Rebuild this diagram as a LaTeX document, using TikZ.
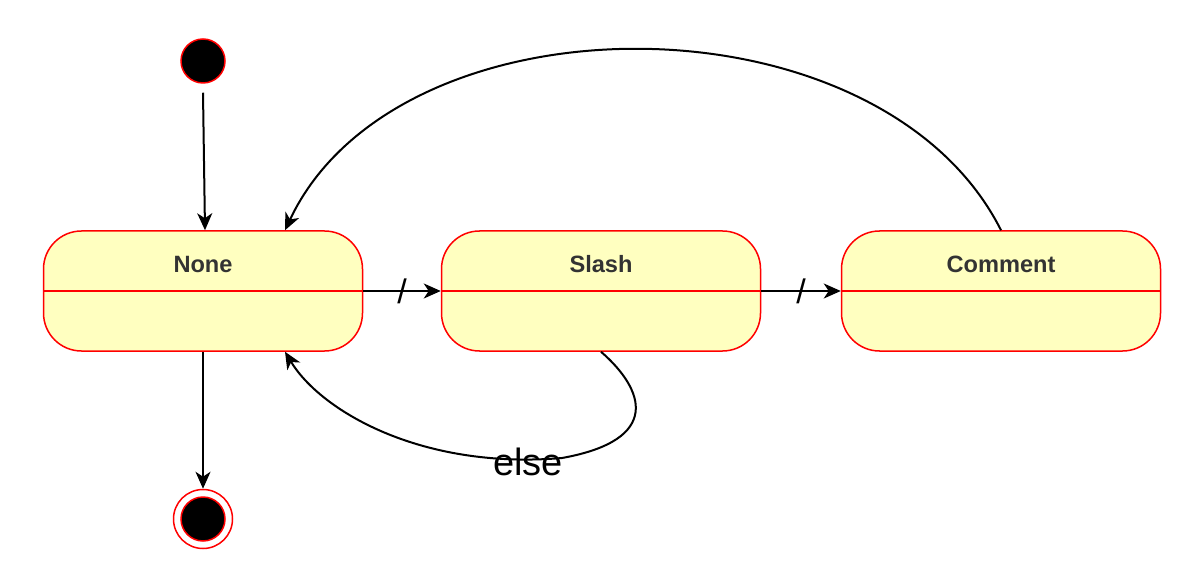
\documentclass[tikz,border=0pt]{standalone}
\usepackage{fontspec}
\setmainfont{Liberation Sans}
\usetikzlibrary{arrows.meta}
\definecolor{statefill}{HTML}{FFFFC0}
\definecolor{titlegray}{HTML}{333333}
\begin{document}
\begin{tikzpicture}[x=0.5pt,y=-0.5pt,
    state/.style={draw=red,fill=statefill,line width=0.75pt,rounded corners=19pt,
        minimum width=159.5pt,minimum height=60pt,inner sep=0pt},
    title/.style={font=\fontsize{11.8}{13}\selectfont\bfseries,text=titlegray},
    initial/.style={circle,draw=red,fill=black,line width=0.75pt,minimum size=22pt,inner sep=0pt},
    edge/.style={line width=1pt,-{Stealth[length=8.5pt,width=7.5pt,inset=2.5pt]}},
    cut/.style={font=\fontsize{17}{19}\selectfont,inner sep=0pt}]
    \useasboundingbox (0,0) rectangle (1202,582);
    \node[initial] (start) at (203,61) {};
    \node[circle,draw=red,line width=0.75pt,minimum size=29.5pt,inner sep=0pt] (finish) at (203,519) {};
    \node[initial] (finishdot) at (203,519) {};
    \node[state] (none) at (203,291) {};
    \node[state] (slash) at (601,291) {};
    \node[state] (comment) at (1001,291) {};
    \foreach \s/\t in {none/None,slash/Slash,comment/Comment}{
        \draw[red,line width=0.75pt] (\s.west) -- (\s.east);
        \node[title] (\s T) at (\s.center) [yshift=13.5pt] {\t};
    }
    \draw[edge] ([yshift=-4.5pt]start.south) -- ([xshift=1pt]none.north);
    \draw[edge] (none.south) -- (finish.north);
    \draw[edge] (none.east) -- node[cut] (cutA) {/} (slash.west);
    \draw[edge] (slash.east) -- node[cut] (cutB) {/} (comment.west);
    \draw[edge] (comment.north) .. controls (880,-10) and (398,-10) .. ([xshift=41pt]none.north);
    \draw[edge] (slash.south) .. controls (645,390) and (662,440) .. (562,458)
        .. controls (420,470) and (320,410) .. ([xshift=41pt]none.south);
    \node[font=\fontsize{19}{22}\selectfont,inner sep=0pt] (elselabel) at (528,462) {else};
\end{tikzpicture}
\end{document}
